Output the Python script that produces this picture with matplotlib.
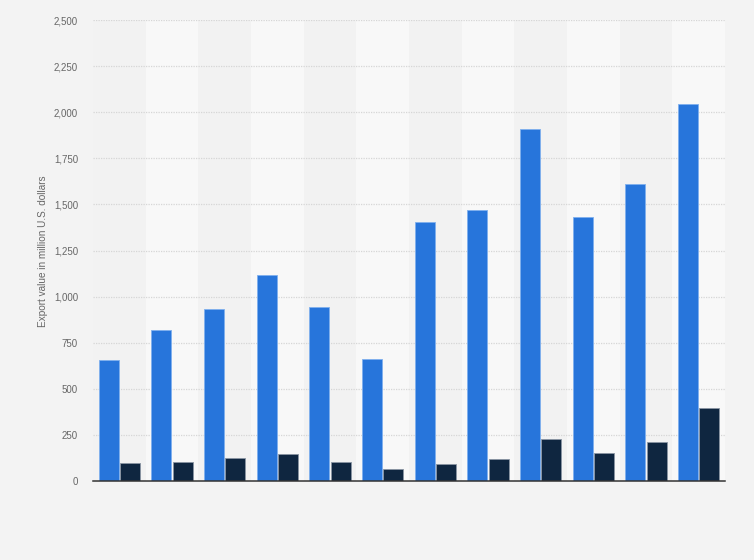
import matplotlib
matplotlib.use("Agg")
import matplotlib.pyplot as plt
import numpy as np

plt.rcParams["font.family"] = ["Liberation Sans", "DejaVu Sans"]

categories = [str(i) for i in range(1, 13)]
series_a = [654, 817, 934, 1115, 945, 660, 1403, 1468, 1907, 1430, 1609, 2043]
series_b = [99, 105, 126, 148, 105, 67, 90, 121, 229, 154, 213, 398]
yticks = [0, 250, 500, 750, 1000, 1250, 1500, 1750, 2000, 2250, 2500]
ytick_labels = ["0", "250", "500", "750", "1,000", "1,250", "1,500", "1,750", "2,000", "2,250", "2,500"]

W, H = 754, 560
fig = plt.figure(figsize=(W / 100, H / 100), dpi=100)
fig.patch.set_facecolor("#f3f3f3")

left, right = 93, 725
top_px, zero_px = 20, 481

ax = fig.add_axes([left / W, 1 - zero_px / H, (right - left) / W, (zero_px - top_px) / H])
ax.set_facecolor("#f3f3f3")
n = len(categories)
x = np.arange(n)
ax.set_xlim(-0.5, n - 0.5)
ax.set_ylim(0, 2500)

for i in range(n):
    ax.axvspan(i - 0.5, i + 0.5, color="#f2f2f2" if i % 2 == 0 else "#f8f8f8", lw=0, zorder=0)

for t in yticks[1:]:
    ax.axhline(t, color="#d6d6d6", lw=0.9, ls=(0, (1, 1)), zorder=1)

w = 0.38
ax.bar(x - 0.2, series_a, width=w, color="#2775db", edgecolor="#7fb0ee", lw=0.6, zorder=2)
ax.bar(x + 0.2, series_b, width=w, color="#0f2640", edgecolor="#8a95a3", lw=0.6, zorder=2)

ax.axhline(0, color="#333333", lw=1.1, zorder=3, clip_on=False)

for s in ax.spines.values():
    s.set_visible(False)
ax.set_xticks([])
ax.set_yticks(yticks)
ax.set_yticklabels(ytick_labels, color="#666666", fontsize=7)
ax.tick_params(axis="y", length=0, pad=10.8)
ax.set_ylabel("Export value in million U.S. dollars", color="#666666", fontsize=7.2)
ax.yaxis.set_label_coords((48 - left) / (right - left), (zero_px - 251) / (zero_px - top_px))

fig.savefig("out.png", dpi=100, facecolor=fig.get_facecolor())
